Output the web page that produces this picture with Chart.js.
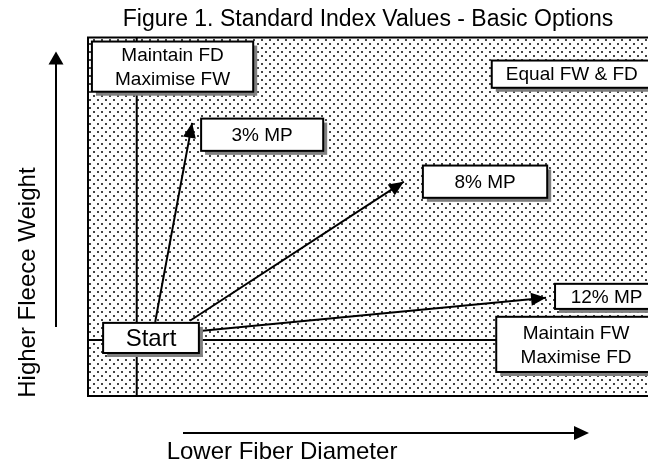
<!DOCTYPE html>
<html>
<head>
<meta charset="utf-8">
<title>Figure 1. Standard Index Values - Basic Options</title>
<script src="https://cdn.jsdelivr.net/npm/chart.js@4.4.1/dist/chart.umd.min.js"></script>
<style>
  html, body { margin: 0; padding: 0; background: #fff; overflow: hidden; }
  canvas { display: block; }
</style>
</head>
<body>
<canvas id="indexChart" width="648" height="460"></canvas>
<script>
// Both axes run 0-100 (relative units, no ticks shown)

// Reference lines: maintain FD (vertical) and maintain FW (horizontal)
const maintainFdX = 8.7;
const maintainFwY = 15.6;

// Arrows from the Start box to each option
const arrowNames = ['3% MP', '8% MP', '12% MP'];
const arrowFromX = [12.0, 18.2, 20.4];
const arrowFromY = [20.7, 21.0, 18.2];
const arrowToX = [18.6, 56.4, 81.8];
const arrowToY = [76.2, 59.8, 27.4];

// Labelled boxes (extents in the same 0-100 units)
const boxText = [
    ['Maintain FD', 'Maximise FW'],
    ['3% MP'],
    ['Equal FW & FD'],
    ['8% MP'],
    ['12% MP'],
    ['Maintain FW', 'Maximise FD'],
    ['Start']
];
const boxXMin = [0.7, 20.2, 72.1, 59.8, 83.4, 72.9, 2.7];
const boxXMax = [29.5, 42.0, 100.7, 82.0, 101.8, 101.4, 19.8];
const boxYMin = [84.9, 68.4, 86.0, 55.3, 24.3, 6.7, 12.0];
const boxYMax = [98.9, 77.4, 93.6, 64.3, 31.3, 22.1, 20.4];

const FONT = "'Liberation Sans', Arial, Helvetica, sans-serif";

// Dotted fill like the old Excel pattern
function makeStipple(ctx) {
    const c = document.createElement('canvas');
    c.width = 8;
    c.height = 8;
    const g = c.getContext('2d');
    g.fillStyle = '#fff';
    g.fillRect(0, 0, 8, 8);
    g.fillStyle = '#444';
    g.fillRect(1, 3, 2, 2);
    g.fillRect(5, 7, 2, 1);
    g.fillRect(5, 0, 2, 1);
    return ctx.createPattern(c, 'repeat');
}

function arrowHead(ctx, x0, y0, x1, y1, len, half) {
    const a = Math.atan2(y1 - y0, x1 - x0);
    ctx.save();
    ctx.translate(x1, y1);
    ctx.rotate(a);
    ctx.beginPath();
    ctx.moveTo(0, 0);
    ctx.lineTo(-len, -half);
    ctx.lineTo(-len, half);
    ctx.closePath();
    ctx.fill();
    ctx.restore();
}

const diagramPlugin = {
    id: 'diagram',
    beforeDatasetsDraw(chart) {
        const { ctx, chartArea: a } = chart;
        ctx.save();
        ctx.fillStyle = makeStipple(ctx);
        ctx.fillRect(a.left, a.top, a.right - a.left + 20, a.bottom - a.top);
        // border: left, top, bottom (right side runs off the page)
        ctx.strokeStyle = '#000';
        ctx.lineWidth = 2;
        ctx.beginPath();
        ctx.moveTo(a.right + 20, a.top);
        ctx.lineTo(a.left, a.top);
        ctx.lineTo(a.left, a.bottom);
        ctx.lineTo(a.right + 20, a.bottom);
        ctx.stroke();
        ctx.restore();
    },
    afterDatasetsDraw(chart) {
        const { ctx } = chart;
        const xs = chart.scales.x;
        const ys = chart.scales.y;
        ctx.save();

        // arrow heads on the option arrows
        ctx.fillStyle = '#000';
        chart.data.datasets.forEach((ds, i) => {
            if (!ds.arrow) return;
            const pts = chart.getDatasetMeta(i).data;
            arrowHead(ctx, pts[0].x, pts[0].y, pts[1].x, pts[1].y, 15, 6.5);
        });

        // boxes with drop shadow
        boxText.forEach((lines, i) => {
            const x1 = xs.getPixelForValue(boxXMin[i]);
            const x2 = xs.getPixelForValue(boxXMax[i]);
            const top = ys.getPixelForValue(boxYMax[i]);
            const bot = ys.getPixelForValue(boxYMin[i]);
            const w = x2 - x1, h = bot - top;
            ctx.fillStyle = '#808080';
            ctx.fillRect(x1 + 4, top + 4, w, h);
            ctx.fillStyle = '#fff';
            ctx.fillRect(x1, top, w, h);
            ctx.strokeStyle = '#000';
            ctx.lineWidth = 2;
            ctx.strokeRect(x1, top, w, h);

            const size = lines[0] === 'Start' ? 24 : 19;
            ctx.font = `${size}px ${FONT}`;
            ctx.fillStyle = '#000';
            ctx.textAlign = 'center';
            ctx.textBaseline = 'middle';
            const cx = (x1 + x2) / 2, cy = (top + bot) / 2 + 1;
            lines.forEach((t, j) => {
                ctx.fillText(t, cx, cy + (j - (lines.length - 1) / 2) * 24);
            });
        });
        ctx.restore();
    },
    afterDraw(chart) {
        const { ctx, chartArea: a } = chart;
        ctx.save();
        ctx.strokeStyle = '#000';
        ctx.fillStyle = '#000';
        ctx.lineWidth = 2;

        // y direction arrow
        const vx = a.left - 32;
        const vTop = a.top + 14, vBot = a.bottom - 69;
        ctx.beginPath();
        ctx.moveTo(vx, vBot);
        ctx.lineTo(vx, vTop + 10);
        ctx.stroke();
        arrowHead(ctx, vx, vBot, vx, vTop, 13, 7.5);

        // x direction arrow
        const hy = a.bottom + 37;
        const hL = a.left + 95, hR = a.left + 501;
        ctx.beginPath();
        ctx.moveTo(hL, hy);
        ctx.lineTo(hR - 10, hy);
        ctx.stroke();
        arrowHead(ctx, hL, hy, hR, hy, 15, 7);

        // axis titles
        ctx.font = `24px ${FONT}`;
        ctx.textAlign = 'center';
        ctx.textBaseline = 'alphabetic';
        ctx.fillText('Lower Fiber Diameter', a.left + 194, 459);
        ctx.translate(35, a.top + 245);
        ctx.rotate(-Math.PI / 2);
        ctx.fillText('Higher Fleece Weight', 0, 0);
        ctx.restore();
    }
};

const lineStyle = { borderColor: '#000', borderWidth: 2, pointRadius: 0, showLine: true, tension: 0 };

const datasets = [
    { label: 'Maintain FD', data: [{ x: maintainFdX, y: 0 }, { x: maintainFdX, y: 100 }], ...lineStyle },
    { label: 'Maintain FW', data: [{ x: 0, y: maintainFwY }, { x: 100, y: maintainFwY }], ...lineStyle }
];
arrowNames.forEach((name, i) => {
    datasets.push({
        label: name,
        data: [{ x: arrowFromX[i], y: arrowFromY[i] }, { x: arrowToX[i], y: arrowToY[i] }],
        arrow: true,
        ...lineStyle
    });
});

const ctx = document.getElementById('indexChart').getContext('2d');

const config = {
    type: 'scatter',
    data: { datasets: datasets },
    options: {
        responsive: false,
        animation: false,
        events: [],
        layout: { padding: { left: 88, right: 0, top: 0, bottom: 64 } },
        scales: {
            x: { type: 'linear', min: 0, max: 100, display: false },
            y: { type: 'linear', min: 0, max: 100, display: false }
        },
        plugins: {
            legend: { display: false },
            tooltip: { enabled: false },
            title: {
                display: true,
                text: 'Figure 1. Standard Index Values - Basic Options',
                color: '#000',
                font: { family: FONT, size: 23, weight: 'normal' },
                padding: { top: 6, bottom: 4 }
            }
        }
    },
    plugins: [diagramPlugin]
};

const indexChart = new Chart(ctx, config);
</script>
</body>
</html>
